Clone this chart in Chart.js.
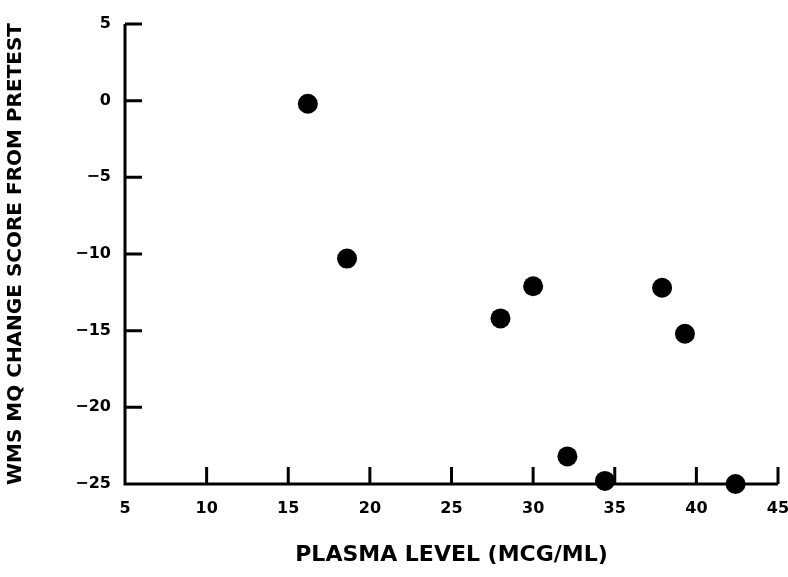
<!DOCTYPE html>
<html>
<head>
<meta charset="utf-8">
<script src="https://cdn.jsdelivr.net/npm/chart.js@4"></script>
<style>
  html, body { margin: 0; padding: 0; background: #fff; }
  #wrap { width: 788px; height: 577px; }
</style>
</head>
<body>
<div id="wrap"><canvas id="chart"></canvas></div>
<script>
const plasmaLevel = [16.2, 18.6, 28.0, 30.0, 32.1, 34.4, 37.9, 39.3, 42.4];
const mqChange = [-0.2, -10.3, -14.2, -12.1, -23.2, -24.8, -12.2, -15.2, -25.0];
const xTicks = [5, 10, 15, 20, 25, 30, 35, 40, 45];
const yTicks = [-25, -20, -15, -10, -5, 0, 5];

const font = "'DejaVu Sans', sans-serif";

// axes with inward tick marks, like the original figure
const axisPlugin = {
  id: 'axisPlugin',
  beforeDatasetsDraw(chart) {
    const { ctx, chartArea: a, scales: { x, y } } = chart;
    ctx.save();
    ctx.strokeStyle = '#000';
    ctx.lineWidth = 3;
    ctx.beginPath();
    ctx.moveTo(a.left, a.top);
    ctx.lineTo(a.left, a.bottom);
    ctx.lineTo(a.right, a.bottom);
    xTicks.forEach(v => {
      if (v === xTicks[0]) return;
      const px = x.getPixelForValue(v);
      ctx.moveTo(px, a.bottom);
      ctx.lineTo(px, a.bottom - 17);
    });
    yTicks.forEach(v => {
      if (v === yTicks[0]) return;
      const py = y.getPixelForValue(v);
      ctx.moveTo(a.left, py);
      ctx.lineTo(a.left + 17, py);
    });
    ctx.stroke();
    ctx.restore();
  }
};

new Chart(document.getElementById('chart'), {
  type: 'scatter',
  data: {
    datasets: [{
      data: plasmaLevel.map((v, i) => ({ x: v, y: mqChange[i] })),
      backgroundColor: '#000',
      borderWidth: 0,
      pointRadius: 10,
      clip: false
    }]
  },
  options: {
    responsive: true,
    maintainAspectRatio: false,
    animation: false,
    layout: { padding: { top: 24, right: 10, left: 0, bottom: 0 } },
    plugins: { legend: { display: false }, tooltip: { enabled: false } },
    scales: {
      x: {
        min: 5, max: 45,
        afterBuildTicks: s => { s.ticks = xTicks.map(v => ({ value: v })); },
        afterFit: s => { s.height = 93; s.paddingLeft = 0; s.paddingRight = 0; },
        grid: { display: false, drawTicks: false },
        border: { display: false },
        ticks: { color: '#000', padding: 15, maxRotation: 0, font: { family: font, size: 16, weight: 'bold' } },
        title: {
          display: true, text: 'PLASMA LEVEL (MCG/ML)', color: '#000',
          padding: { top: 0, bottom: 9 },
          font: { family: font, size: 22, weight: 'bold' }
        }
      },
      y: {
        min: -25, max: 5,
        afterBuildTicks: s => { s.ticks = yTicks.map(v => ({ value: v })); },
        afterFit: s => { s.width = 125; s.paddingTop = 0; s.paddingBottom = 0; },
        grid: { display: false, drawTicks: false },
        border: { display: false },
        ticks: {
          color: '#000', padding: 14,
          font: { family: font, size: 16, weight: 'bold' },
          callback: v => v < 0 ? '\u2212' + Math.abs(v) : String(v)
        },
        title: {
          display: true, text: 'WMS MQ CHANGE SCORE FROM PRETEST', color: '#000',
          padding: { top: 4, bottom: 0 },
          font: { family: font, size: 20, weight: 'bold' }
        }
      }
    }
  },
  plugins: [axisPlugin]
});
</script>
</body>
</html>
